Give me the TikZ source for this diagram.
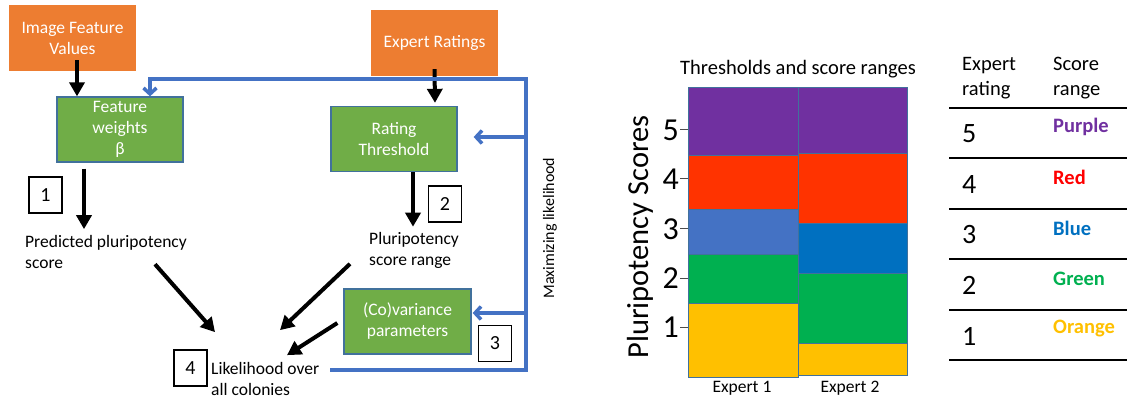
\documentclass[tikz,border=0pt]{standalone}
\usepackage{fontspec}
\setmainfont{Carlito}
\usetikzlibrary{arrows.meta,calc}

\definecolor{boxorange}{HTML}{ED7D31}
\definecolor{boxgreen}{HTML}{70AD47}
\definecolor{boxedge}{HTML}{41719C}
\definecolor{lineblue}{HTML}{4472C4}
\definecolor{cpurple}{HTML}{7030A0}
\definecolor{cred}{HTML}{FF3300}
\definecolor{cblue}{HTML}{4472C4}
\definecolor{cbluetwo}{HTML}{0070C0}
\definecolor{cgreen}{HTML}{00B050}
\definecolor{corange}{HTML}{FFC000}
\definecolor{tred}{HTML}{FF0000}

\begin{document}
\begin{tikzpicture}[x=1pt,y=-1pt,
  txt/.style={font=\fontsize{17.5}{21}\selectfont, inner sep=0pt},
  orangebox/.style={txt, fill=boxorange, text=white, align=center,
    minimum width=127pt, minimum height=66pt},
  greenbox/.style={txt, fill=boxgreen, draw=boxedge, line width=1.3pt,
    text=white, align=center, minimum width=126pt, minimum height=65pt},
  numbox/.style={draw=black, line width=1.2pt, fill=white, inner sep=0pt,
    minimum width=33pt, minimum height=36pt, font=\fontsize{20}{24}\selectfont},
  blk/.style={line width=4pt, -{Triangle[width=15pt,length=14pt]}},
  blu/.style={draw=lineblue, line width=3.5pt},
  bluarrow/.style={blu, -{Straight Barb[length=6pt,width=13pt]}},
  segment/.style={draw=boxedge, line width=1pt},
  rulerow/.style={line width=1.5pt},
]
  \useasboundingbox (0,0) rectangle (1127,398);

  % inputs and parameters
  \node[orangebox] (ifv) at (72.5,38) {Image Feature\\Values};
  \node[orangebox] (er) at (434.5,43) {Expert Ratings};
  \node[greenbox] (fw) at (120,129.5) {Feature\\weights\\β};
  \node[greenbox] (rt) at (394,139) {Rating\\Threshold};
  \node[greenbox, minimum width=127pt] (cov) at (407.5,321.5) {(Co)variance\\parameters};

  % intermediate results
  \node[txt, anchor=west, align=left] (pred) at (25,252) {Predicted pluripotency\\score};
  \node[txt, anchor=west, align=left] (range) at (369,250) {Pluripotency\\score range};
  \node[txt, anchor=west, align=left] (lik) at (211,379) {Likelihood over\\all colonies};

  % step numbers
  \node[numbox] (n1) at (45.5,195) {1};
  \node[numbox] (n2) at (445,204) {2};
  \node[numbox] (n3) at (495,343.5) {3};
  \node[numbox] (n4) at (190.5,368) {4};

  % black arrows
  \draw[blk] ([xshift=4.5pt,yshift=11pt]ifv.south) -- ([xshift=-43pt]fw.north);
  \draw[blk] ([yshift=7pt]er.south) -- ([xshift=41pt,yshift=3pt]rt.north);
  \draw[blk] ([xshift=-36pt,yshift=-6pt]fw.south) -- ([xshift=59pt,yshift=6pt]pred.north west);
  \draw[blk] ([xshift=19pt]rt.south) -- ([xshift=44pt,yshift=5pt]range.north west);
  \draw[blk] ([xshift=130pt,yshift=4.6pt]pred.south west) -- ([xshift=4pt,yshift=30pt]lik.north west);
  \draw[blk] ([xshift=-19pt,yshift=4.4pt]range.south west) -- ([xshift=69pt,yshift=32pt]lik.north west);
  \draw[blk] ([xshift=-6pt,yshift=-1.5pt]cov.west) -- ([xshift=76pt,yshift=7pt]lik.north west);

  % feedback loop
  \coordinate (rail) at (526,79);
  \draw[bluarrow] ([xshift=11pt,yshift=9pt]lik.east) -| (rail) -| ([xshift=30pt]fw.north);
  \draw[bluarrow] ([yshift=2pt]rail |- rt.east) -- ([xshift=16pt,yshift=2pt]rt.east);
  \draw[bluarrow] ([yshift=8.5pt]rail |- cov.east) -- ([xshift=1pt,yshift=8.5pt]cov.east);
  \node[rotate=90, font=\fontsize{16}{19}\selectfont] (maxl) at (550,228) {Maximizing likelihood};

  % score range chart
  \node[font=\fontsize{20.5}{24}\selectfont] (ttl) at (798,69) {Thresholds and score ranges};
  \foreach \ya/\yb/\col in {88/156/cpurple, 156/210/cred, 210/254/cblue, 254/303/cgreen, 303/377/corange}
    \filldraw[segment, fill=\col] (688,\ya) rectangle (798,\yb);
  \foreach \ya/\yb/\col in {88/154/cpurple, 154/224/cred, 224/273/cbluetwo, 273/343/cgreen, 343/375/corange}
    \filldraw[segment, fill=\col] (798,\ya) rectangle (907,\yb);
  \foreach \v/\y in {5/130, 4/179, 3/229, 2/278, 1/327} {
    \draw[line width=1pt, black!70] (680,\y) -- (688,\y);
    \node[anchor=east, inner sep=0pt, font=\fontsize{32}{36}\selectfont] (tick\v) at (679,\y) {\v};
  }
  \node[rotate=90, font=\fontsize{30.5}{36}\selectfont] (ylab) at (640,237) {Pluripotency Scores};
  \node[font=\fontsize{17.5}{21}\selectfont] (ex1) at (742,388) {Expert 1};
  \node[font=\fontsize{17.5}{21}\selectfont] (ex2) at (850,388) {Expert 2};

  % rating table
  \node[anchor=west, align=left, inner sep=0pt, font=\fontsize{20.5}{24.5}\selectfont] (hrate) at (962,78) {Expert\\rating};
  \node[anchor=west, align=left, inner sep=0pt, font=\fontsize{20.5}{24.5}\selectfont] (hrange) at (1053,78) {Score\\range};
  \foreach \y in {108,158,209,259,310,360}
    \draw[rulerow] (949,\y) -- (1127,\y);
  \foreach \v/\y/\nm/\col in {5/134/Purple/cpurple, 4/184.5/Red/tred, 3/235/Blue/cbluetwo, 2/285.5/Green/cgreen, 1/336/Orange/corange} {
    \node[anchor=west, inner sep=0pt, font=\fontsize{28}{32}\selectfont] (rate\v) at (962,\y) {\v};
    \node[anchor=west, inner sep=0pt, text=\col, font=\fontsize{20.5}{24}\selectfont\bfseries] (col\v) at (1053,\y-7) {\nm};
  }
\end{tikzpicture}
\end{document}
